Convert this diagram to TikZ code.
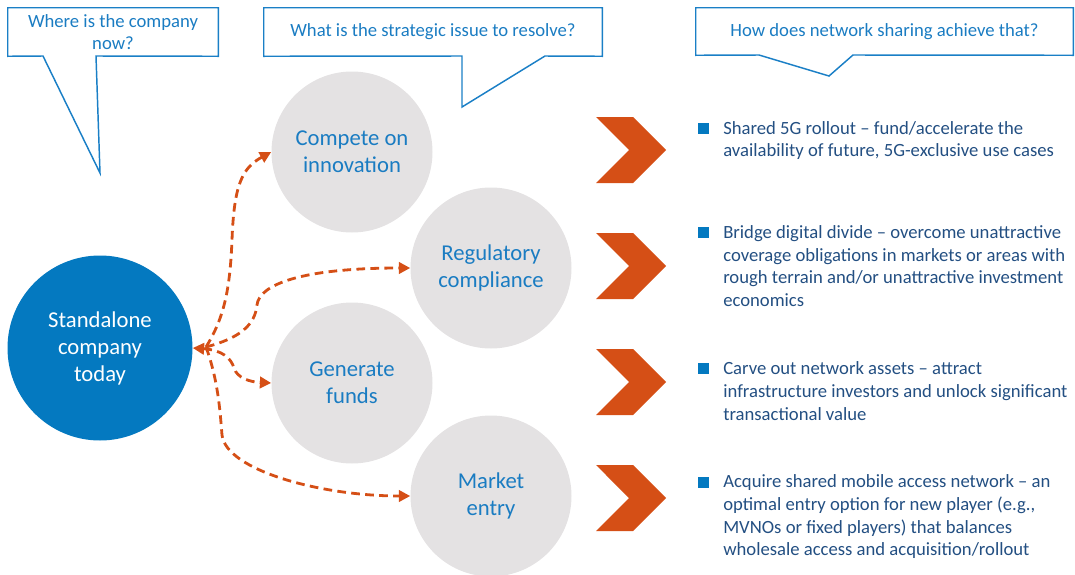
\documentclass[tikz,border=0pt]{standalone}
\usepackage{fontspec}
\setmainfont{Carlito}
\usetikzlibrary{arrows.meta}
\definecolor{cblue}{HTML}{0479C0}
\definecolor{cline}{HTML}{1A7FC6}
\definecolor{ctext}{HTML}{1A7CC2}
\definecolor{cnavy}{HTML}{234F82}
\definecolor{cgray}{HTML}{E4E2E3}
\definecolor{corange}{HTML}{D54F16}

\begin{document}
\begin{tikzpicture}[x=0.75pt,y=-0.75pt]
   \useasboundingbox (0,0) rectangle (1075,575);
   \tikzstyle{question}=[inner sep=0pt, align=center, text=ctext, font=\fontsize{14}{16.5}\selectfont]
   \tikzstyle{callout}=[draw=cline, line width=1.1pt, line join=miter]
   \tikzstyle{bubble}=[circle, fill=cgray, minimum size=120.75pt, inner sep=0pt, align=center, text=ctext, font=\fontsize{17}{20.25}\selectfont]
   \tikzstyle{flow}=[draw=corange, line width=2.1pt, dash pattern=on 6.5pt off 4pt, -{Triangle[length=8.5pt,width=8.5pt]}]
   \tikzstyle{lever}=[fill=corange]
   \tikzstyle{point}=[inner sep=0pt, anchor=west, align=left, text=cnavy, font=\fontsize{14}{17}\selectfont]

   % questions on top
   \node[question, minimum width=157.5pt, minimum height=36pt] (where) at (113,32) {Where is the company\\now?};
   \node[question, minimum width=253.5pt, minimum height=36pt] (issue) at (433,32) {What is the strategic issue to resolve?};
   \node[question, minimum width=282.75pt, minimum height=35.25pt] (how) at (884.5,31.5) {How does network sharing achieve that?};
   \draw[callout] (where.north west) -- (where.north east) -- (where.south east)
      -- (96,56) -- (100,173) -- (43,56) -- (where.south west) -- cycle;
   \draw[callout] (issue.north west) -- (issue.north east) -- (issue.south east)
      -- (545,56) -- (462,107) -- (462,56) -- (issue.south west) -- cycle;
   \draw[callout] (how.north west) -- (how.north east) -- (how.south east)
      -- (853,55) -- (829,76) -- (759,55) -- (how.south west) -- cycle;

   % company and its options
   \node[circle, fill=cblue, minimum size=138.75pt, inner sep=0pt, align=center, text=white,
      font=\fontsize{17}{20.25}\selectfont] (company) at (100,348) {Standalone\\company\\today};
   \node[bubble] (compete) at (352,152) {Compete on\\innovation};
   \node[bubble] (regulatory) at (491,268) {Regulatory\\compliance};
   \node[bubble] (funds) at (352,383) {Generate\\funds};
   \node[bubble] (market) at (491,496) {Market\\entry};

   \coordinate (hub) at (206,347);
   \draw[flow] (hub) .. controls (224,318) and (230,290) .. (232,240)
      .. controls (234,185) and (242,168) .. (compete.west);
   \draw[flow] (hub) .. controls (240,338) and (255,325) .. (257,305)
      .. controls (259,285) and (300,268) .. (regulatory.west);
   \draw[flow, {Triangle[length=8.5pt,width=8.5pt]}-{Triangle[length=8.5pt,width=8.5pt]}] (company.east)
      .. controls (222,350) and (231,358) .. (234,368)
      .. controls (237,378) and (250,382) .. (funds.west);
   \draw[flow] (hub) .. controls (218,380) and (220,410) .. (222,435)
      .. controls (226,470) and (320,496) .. (market.west);

   % levers
   \foreach \c/\y/\b/\txt in {150/140.5/128/{Shared 5G rollout -- fund/accelerate the\\availability of future, 5G-exclusive use cases},
         266/266/232/{Bridge digital divide -- overcome unattractive\\coverage obligations in markets or areas with\\rough terrain and/or unattractive investment\\economics},
         382/391/368/{Carve out network assets -- attract\\infrastructure investors and unlock significant\\transactional value},
         498/517/482/{Acquire shared mobile access network -- an\\optimal entry option for new player (e.g.,\\MVNOs or fixed players) that balances\\wholesale access and acquisition/rollout}} {
       \path[lever] (596,\c-33) -- (633,\c-33) -- (666,\c) -- (633,\c+33) -- (596,\c+33) -- (629,\c) -- cycle;
       \node[fill=cblue, minimum size=8.25pt, inner sep=0pt] at (703.5,\b) {};
       \node[point] at (723,\y) {\txt};
   }
\end{tikzpicture}
\end{document}
